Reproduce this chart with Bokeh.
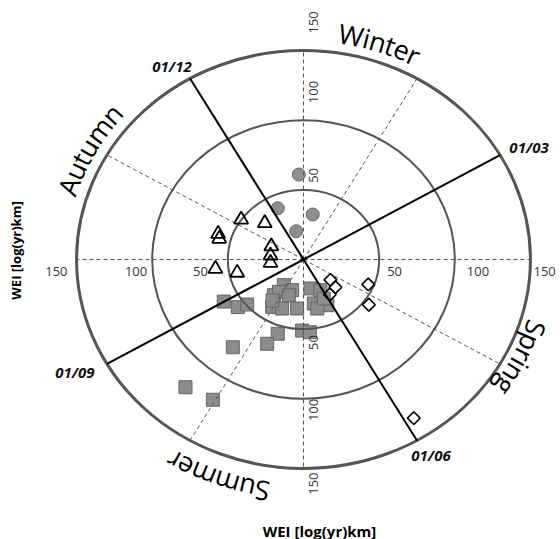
import numpy as np
from bokeh.plotting import figure
from bokeh.models import Range1d
from bokeh.core.properties import value
from bokeh.embed import file_html
from bokeh.resources import INLINE

# ---------------- data ----------------
ring_values = [50, 100, 150]
tick_labels = ["50", "100", "150"]
boundary_months = [12, 3, 6, 9]
boundary_labels = ["01/12", "01/03", "01/06", "01/09"]
dashed_months = [1, 2, 4, 5, 7, 8, 10, 11]
season_names = ["Winter", "Spring", "Summer", "Autumn"]
axis_title = "WEI [log(yr)km]"

# WEI coordinates (x, y) of each group
circle_x = [-3.1, -17.0, 6.1, -4.8]
circle_y = [61.0, 36.8, 32.3, 20.3]

triangle_x = [-41.2, -25.6, -56.4, -55.7, -21.3, -21.8, -21.8, -58.2, -43.8]
triangle_y = [28.7, 26.1, 18.4, 14.9, 9.5, 2.9, -2.4, -6.7, -9.5]

diamond_x = [17.8, 21.1, 17.4, 42.8, 43.2, 72.9]
diamond_y = [-14.6, -19.9, -25.1, -17.9, -32.5, -113.9]

square_x = [-52.7, -43.4, -37.2, -13.0, -7.5, -19.6, -16.3, 4.6, 11.2, -20.7,
            -14.1, -4.2, 6.8, 15.7, 9.1, -20.5, -0.9, 4.2, -17.0, -24.0,
            -46.7, -78.0, -59.9, 13.4, -9.7]
square_y = [-30.2, -34.2, -32.3, -18.4, -22.0, -25.6, -23.2, -20.8, -22.0, -34.0,
            -35.2, -35.2, -31.6, -32.8, -35.2, -29.4, -51.0, -52.2, -53.3, -60.5,
            -63.0, -91.7, -100.7, -28.0, -25.6]

# ---------------- layout / style ----------------
W, H = 560, 539
cx_px, cy_px = 303, 259
sx, sy = 1.513, 1.393
x_start, x_end = -cx_px / sx, (W - cx_px) / sx
y_start, y_end = -(H - cy_px) / sy, cy_px / sy

FONT = value("Open Sans")
RMAX = ring_values[-1]


def month_angle(m):
    return np.radians(90 - (m - 1) * 30)


p = figure(width=W, height=H, x_range=Range1d(x_start, x_end),
           y_range=Range1d(y_start, y_end), output_backend="svg",
           toolbar_location=None, min_border=0,
           x_axis_type=None, y_axis_type=None)
p.outline_line_color = None
p.background_fill_color = "white"

# filled markers
p.scatter(square_x, square_y, marker="square", size=13,
          fill_color="#8c8c8c", line_color="#666666", line_width=1)
p.scatter(circle_x, circle_y, marker="circle", size=13,
          fill_color="#8f8f8f", line_color="#666666", line_width=1)

# rings
for i, r in enumerate(ring_values):
    p.ellipse(x=0, y=0, width=2 * r, height=2 * r, fill_color=None,
              line_color="#555555", line_width=3 if i == len(ring_values) - 1 else 2)

# dashed month spokes
da = np.array([month_angle(m) for m in dashed_months])
p.segment(x0=0, y0=0, x1=RMAX * np.cos(da), y1=RMAX * np.sin(da),
          line_color="#555555", line_width=1, line_dash="4 3")

# solid season boundaries
ba = np.array([month_angle(m) for m in boundary_months])
bx = RMAX * np.cos(ba)
by = RMAX * np.sin(ba)
p.segment(x0=0, y0=0, x1=bx, y1=by, line_color="black", line_width=2)

# hollow markers
p.scatter(triangle_x, triangle_y, marker="triangle", size=14,
          fill_color=None, line_color="black", line_width=1.8)
p.scatter(diamond_x, diamond_y, marker="square", angle=np.pi / 4, size=9,
          fill_color=None, line_color="black", line_width=1.6)

# ---------- tick labels ----------
left_pad = [20, 5, 9]
right_pad = [8, 12, 3]
hy = -12 / sy
for r, t, lp, rp in zip(ring_values, tick_labels, left_pad, right_pad):
    p.text(x=[-r - lp / sx], y=[hy], text=[t], text_align="right",
           text_baseline="middle", text_font=FONT, text_font_size="13px",
           text_color="#333333")
    p.text(x=[r + rp / sx], y=[hy], text=[t], text_align="left",
           text_baseline="middle", text_font=FONT, text_font_size="13px",
           text_color="#333333")
top_pad = [7, 17, 17]
bot_pad = [6, 0, 4]
vx = 10 / sx
for r, t, tp, bp in zip(ring_values, tick_labels, top_pad, bot_pad):
    p.text(x=[vx], y=[r + tp / sy], text=[t], angle=np.pi / 2, text_align="left",
           text_baseline="middle", text_font=FONT, text_font_size="13px",
           text_color="#333333")
    p.text(x=[vx], y=[-r - bp / sy], text=[t], angle=np.pi / 2, text_align="right",
           text_baseline="middle", text_font=FONT, text_font_size="13px",
           text_color="#333333")

# ---------- boundary date labels ----------
date_offsets = [(-18, 13), (29, 8.5), (14, -15), (-32, -8.5)]
for x, y, t, (ox, oy) in zip(bx, by, boundary_labels, date_offsets):
    p.text(x=[x + ox / sx], y=[y + oy / sy], text=[t], text_align="center",
           text_baseline="middle", text_font=FONT, text_font_size="15px",
           text_font_style="bold italic", text_color="#111111")

# ---------- curved season labels ----------
CHAR_W = {"W": 0.934, "i": 0.253, "n": 0.614, "t": 0.35, "e": 0.561, "r": 0.408,
          "A": 0.633, "u": 0.614, "m": 0.93, "S": 0.536, "p": 0.613, "g": 0.549}
season_center_deg = [72, -26, 250, 151]
season_pad = [20, 17, 26, 21]
SEASON_PX = 27


def arc_text(word, t_center_deg, font_px, pad_px):
    Rx = RMAX * sx + pad_px
    Ry = RMAX * sy + pad_px
    tc = np.radians(t_center_deg)
    ts = np.linspace(tc - np.pi, tc + np.pi, 6001)
    xs, ys = Rx * np.cos(ts), Ry * np.sin(ts)
    L = np.concatenate([[0], np.cumsum(np.hypot(np.diff(xs), np.diff(ys)))])
    s0 = np.interp(tc, ts, L)
    widths = [CHAR_W.get(c, 0.6) * font_px for c in word]
    total = sum(widths)
    X, Y, T, A = [], [], [], []
    acc = 0.0
    for c, w in zip(word, widths):
        d = acc + w / 2 - total / 2
        t = np.interp(s0 - d, L, ts)
        X.append(Rx * np.cos(t) / sx)
        Y.append(Ry * np.sin(t) / sy)
        T.append(c)
        A.append(np.arctan2(-Ry * np.cos(t), Rx * np.sin(t)))
        acc += w
    return X, Y, T, A


for name, deg, pad in zip(season_names, season_center_deg, season_pad):
    X, Y, T, A = arc_text(name, deg, SEASON_PX, pad)
    p.text(x=X, y=Y, text=T, angle=A, text_align="center",
           text_baseline="alphabetic", text_font=FONT,
           text_font_size=f"{SEASON_PX}px", text_color="black")

# ---------- axis titles ----------
p.text(x=[(319 - 303) / sx], y=[-271 / sy], text=[axis_title], text_align="center",
       text_baseline="middle", text_font=FONT, text_font_size="15px",
       text_font_style="bold", text_color="black")
p.text(x=[-288 / sx], y=[9 / sy], text=[axis_title], angle=np.pi / 2,
       text_align="center", text_baseline="middle", text_font=FONT,
       text_font_size="13px", text_font_style="bold", text_color="black")

open("out.html", "w").write(file_html(p, INLINE))
